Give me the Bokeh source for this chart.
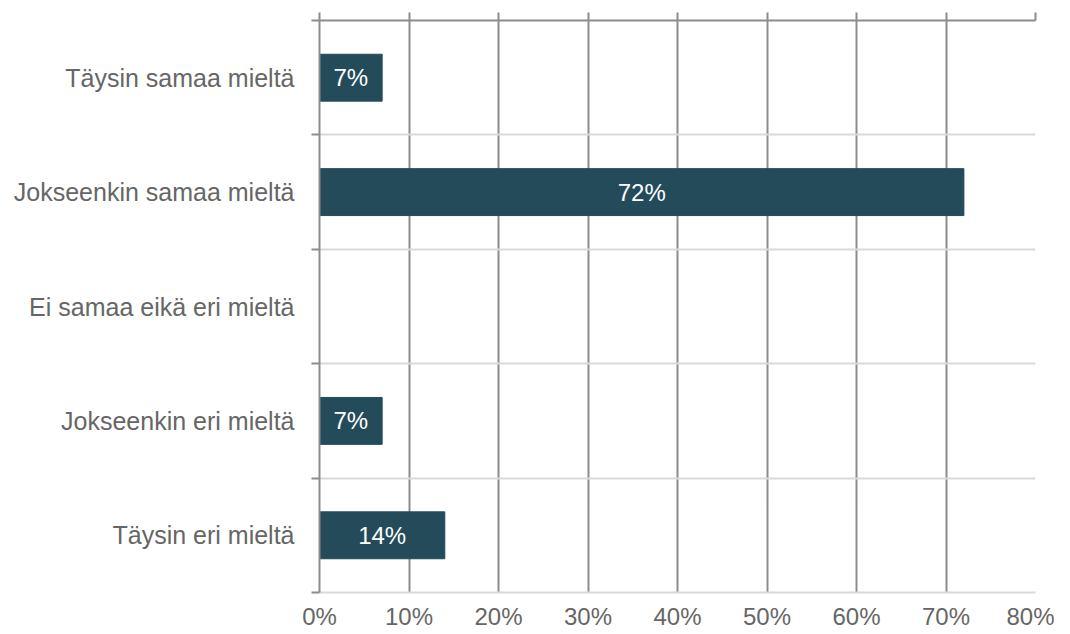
from bokeh.plotting import figure
from bokeh.models import Range1d, FixedTicker, LinearAxis, ColumnDataSource
from bokeh.core.properties import value
from bokeh.embed import file_html
from bokeh.resources import INLINE

categories = ["Täysin samaa mieltä", "Jokseenkin samaa mieltä", "Ei samaa eikä eri mieltä",
              "Jokseenkin eri mieltä", "Täysin eri mieltä"]
values = [7, 72, 0, 7, 14]
x_ticks = [0, 10, 20, 30, 40, 50, 60, 70, 80]
x_tick_labels = ["0%", "10%", "20%", "30%", "40%", "50%", "60%", "70%", "80%"]

FONT = "Liberation Sans"
GRAY_TXT = "#666666"
DARK_LINE = "#8c8c8c"
LIGHT_LINE = "#d9d9d9"
BAR = "#234b5a"

n = len(categories)
ypos = [n - 0.5 - i for i in range(n)]

p = figure(width=1054, height=634, output_backend="svg", toolbar_location=None,
           x_range=Range1d(0, 80), y_range=Range1d(0, n),
           x_axis_location=None, y_axis_location=None)
p.min_border_left = 319
p.min_border_right = 19
p.min_border_top = 20
p.min_border_bottom = 42
p.outline_line_color = None
p.background_fill_color = "white"
p.border_fill_color = "white"

src = ColumnDataSource(dict(y=ypos, v=values, cat=categories))
p.hbar(y="y", left=0, right="v", height=0.41, source=src, fill_color=BAR, line_color=BAR)

lab = [(v / 2, y, f"{v}%") for v, y in zip(values, ypos) if v > 0]
lsrc = ColumnDataSource(dict(x=[a[0] for a in lab], y=[a[1] for a in lab], t=[a[2] for a in lab]))
p.text(x="x", y="y", text="t", source=lsrc, text_color="white", text_align="center",
       text_baseline="middle", text_font=value(FONT), text_font_size="24px")

# grids
p.xgrid.ticker = FixedTicker(ticks=x_ticks)
p.xgrid.grid_line_color = DARK_LINE
p.xgrid.grid_line_width = 2
p.ygrid.ticker = FixedTicker(ticks=list(range(1, n)))
p.ygrid.grid_line_color = LIGHT_LINE
p.ygrid.grid_line_width = 2

# bottom axis (labels)
xb = LinearAxis(ticker=FixedTicker(ticks=x_ticks))
xb.major_label_overrides = {t: l for t, l in zip(x_ticks, x_tick_labels)}
xb.axis_line_color = LIGHT_LINE
xb.axis_line_width = 2
xb.major_tick_line_color = None
xb.major_tick_in = 0
xb.major_tick_out = 0
xb.minor_tick_line_color = None
xb.major_label_standoff = 10
xb.major_label_text_font = FONT
xb.major_label_text_font_size = "24px"
xb.major_label_text_color = GRAY_TXT
p.add_layout(xb, "below")

# top axis (line + outward ticks)
xt = LinearAxis(ticker=FixedTicker(ticks=x_ticks))
xt.axis_line_color = DARK_LINE
xt.axis_line_width = 2
xt.major_tick_line_color = DARK_LINE
xt.major_tick_line_width = 2
xt.major_tick_in = 0
xt.major_tick_out = 8
xt.minor_tick_line_color = None
xt.major_label_text_font_size = "0px"
xt.major_label_text_color = None
xt.major_label_standoff = 0
p.add_layout(xt, "above")

# left axis (category labels, boundary ticks)
yl = LinearAxis(ticker=FixedTicker(ticks=ypos, minor_ticks=list(range(0, n + 1))))
yl.major_label_overrides = {y: c for y, c in zip(ypos, categories)}
yl.axis_line_color = DARK_LINE
yl.axis_line_width = 2
yl.major_tick_line_color = None
yl.major_tick_in = 0
yl.major_tick_out = 0
yl.minor_tick_line_color = DARK_LINE
yl.minor_tick_line_width = 2
yl.minor_tick_in = 0
yl.minor_tick_out = 8
yl.major_label_standoff = 17
yl.major_label_text_font = FONT
yl.major_label_text_font_size = "25px"
yl.major_label_text_color = GRAY_TXT
p.add_layout(yl, "left")

open("out.html", "w").write(file_html(p, INLINE))
